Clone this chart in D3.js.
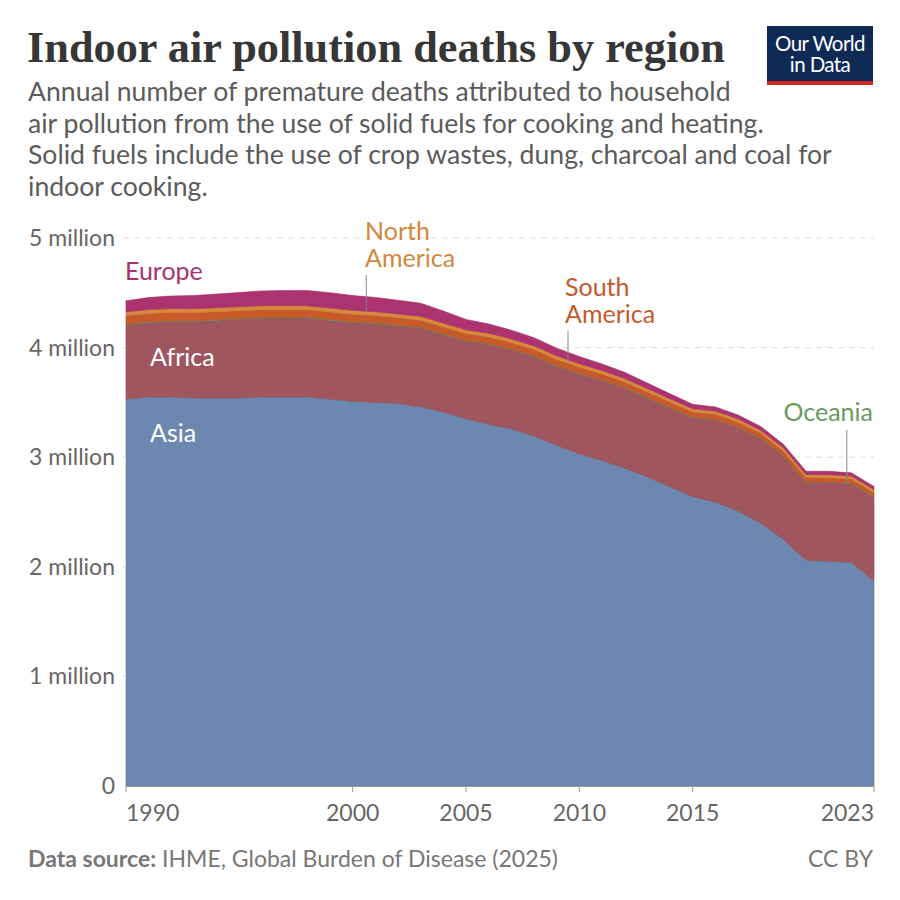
<!DOCTYPE html>
<html><head><meta charset="utf-8">
<script src="https://cdn.jsdelivr.net/npm/d3@7"></script>
<style>
body{margin:0;background:#fff;}
svg{display:block;}
</style></head>
<body>
<svg id="chart" width="900" height="900" font-family="Lato, 'Open Sans', sans-serif"></svg>
<script>
const years = d3.range(1990, 2024);
const asia = [3.53,3.55,3.55,3.54,3.54,3.54,3.55,3.55,3.55,3.53,3.51,3.50,3.49,3.46,3.41,3.35,3.30,3.26,3.19,3.11,3.03,2.97,2.90,2.82,2.73,2.64,2.59,2.51,2.40,2.25,2.06,2.05,2.04,1.87];
const africa = [0.68,0.68,0.69,0.70,0.71,0.72,0.72,0.72,0.72,0.72,0.72,0.72,0.71,0.72,0.71,0.71,0.73,0.72,0.73,0.72,0.73,0.73,0.73,0.72,0.72,0.72,0.75,0.76,0.77,0.76,0.71,0.72,0.72,0.77];
const oceania = [0.006,0.006,0.006,0.006,0.006,0.006,0.006,0.006,0.006,0.006,0.006,0.006,0.006,0.006,0.006,0.006,0.006,0.005,0.005,0.005,0.005,0.005,0.005,0.005,0.005,0.005,0.005,0.005,0.005,0.005,0.004,0.004,0.004,0.004];
const southAmerica = [0.075,0.075,0.074,0.073,0.072,0.071,0.070,0.070,0.069,0.069,0.068,0.067,0.066,0.064,0.063,0.062,0.061,0.060,0.058,0.057,0.055,0.054,0.052,0.050,0.048,0.047,0.046,0.045,0.043,0.042,0.040,0.039,0.037,0.035];
const northAmerica = [0.036,0.036,0.036,0.036,0.036,0.036,0.036,0.036,0.036,0.036,0.036,0.035,0.035,0.035,0.035,0.034,0.034,0.034,0.033,0.033,0.033,0.032,0.032,0.031,0.031,0.030,0.030,0.030,0.029,0.029,0.028,0.028,0.027,0.027];
const europe = [0.100,0.110,0.115,0.120,0.125,0.130,0.135,0.140,0.140,0.140,0.135,0.130,0.125,0.120,0.110,0.095,0.085,0.080,0.075,0.070,0.065,0.060,0.055,0.050,0.045,0.040,0.038,0.036,0.034,0.032,0.030,0.030,0.029,0.026];
const yTicks = [0,1,2,3,4,5];
const yTickLabels = ["0","1 million","2 million","3 million","4 million","5 million"];
const xTicks = [1990,2000,2005,2010,2015,2023];

const seriesDefs = [
  {key:"Asia", values:asia, color:"#6d88b0"},
  {key:"Africa", values:africa, color:"#a0565f"},
  {key:"Oceania", values:oceania, color:"#6a9a5e"},
  {key:"South America", values:southAmerica, color:"#c85a2a"},
  {key:"North America", values:northAmerica, color:"#d9883b"},
  {key:"Europe", values:europe, color:"#ad3370"}
];
const table = years.map((y,i)=>{const r={year:y}; seriesDefs.forEach(s=>r[s.key]=s.values[i]); return r;});

const svg = d3.select("#chart");
const x = d3.scaleLinear().domain([1990,2023]).range([126,874]);
const y = d3.scaleLinear().domain([0,5]).range([786,238]);

// title
svg.append("text").attr("x",27).attr("y",62).attr("font-family","'Liberation Serif','DejaVu Serif',serif")
  .attr("font-size",44).attr("font-weight",700).attr("fill","#363636").attr("textLength",698).attr("lengthAdjust","spacingAndGlyphs")
  .text("Indoor air pollution deaths by region");
const sub = ["Annual number of premature deaths attributed to household",
  "air pollution from the use of solid fuels for cooking and heating.",
  "Solid fuels include the use of crop wastes, dung, charcoal and coal for",
  "indoor cooking."];
const subT = svg.append("text").attr("x",28).attr("y",101).attr("font-size",26.6).attr("fill","#5b5b5b");
sub.forEach((t,i)=>subT.append("tspan").attr("x",28).attr("dy",i===0?0:31.5).text(t));

// logo
svg.append("rect").attr("x",767).attr("y",26).attr("width",106).attr("height",59).attr("fill","#0f2a55");
svg.append("rect").attr("x",767).attr("y",81).attr("width",106).attr("height",4).attr("fill","#ce261e");
const logoT = svg.append("text").attr("x",820).attr("y",51).attr("text-anchor","middle").attr("font-size",20.5).attr("fill","#fff").attr("letter-spacing",-0.6);
logoT.append("tspan").attr("x",820).attr("dy",0).text("Our World");
logoT.append("tspan").attr("x",820).attr("dy",21).text("in Data");

// grid
svg.append("g").selectAll("line").data(yTicks.filter(d=>d>0)).join("line")
  .attr("x1",123).attr("x2",874).attr("y1",d=>y(d)).attr("y2",d=>y(d))
  .attr("stroke","#dddddd").attr("stroke-dasharray","6,5");
svg.append("g").selectAll("text").data(yTicks).join("text")
  .attr("x",115).attr("y",d=>y(d)+8).attr("text-anchor","end").attr("font-size",23).attr("fill","#666")
  .text((d,i)=>yTickLabels[i]);

// stack
const stack = d3.stack().keys(seriesDefs.map(s=>s.key));
const layers = stack(table);
const area = d3.area().x(d=>x(d.data.year)).y0(d=>y(d[0])).y1(d=>y(d[1]));
svg.append("g").selectAll("path").data(layers).join("path")
  .attr("d",area).attr("fill",(d,i)=>seriesDefs[i].color)
  .attr("stroke",(d,i)=>d3.color(seriesDefs[i].color).darker(0.3)).attr("stroke-width",0.6);

// x axis
svg.append("line").attr("x1",126).attr("x2",874).attr("y1",786.5).attr("y2",786.5).attr("stroke","#999");
svg.append("g").selectAll("line").data(xTicks).join("line")
  .attr("x1",d=>x(d)).attr("x2",d=>x(d)).attr("y1",786).attr("y2",792).attr("stroke","#999");
svg.append("g").selectAll("text").data(xTicks).join("text")
  .attr("x",d=>x(d)).attr("y",821)
  .attr("text-anchor",d=>d===1990?"start":(d===2023?"end":"middle"))
  .attr("font-size",23).attr("fill","#666").text(d=>d);

// labels
const lf = 25;
svg.append("text").attr("x",125).attr("y",280).attr("font-size",lf).attr("fill","#a8336c").text("Europe");
svg.append("text").attr("x",150).attr("y",366).attr("font-size",lf).attr("fill","#fff").text("Africa");
svg.append("text").attr("x",150).attr("y",442).attr("font-size",lf).attr("fill","#fff").text("Asia");

function leader(year, yTopPx, seriesIdx){
  const i0 = Math.floor(year) - 1990, t = year - Math.floor(year);
  const v = layers[seriesIdx][i0][1]*(1-t) + layers[seriesIdx][i0+1][1]*t;
  svg.append("line").attr("x1",x(year)).attr("x2",x(year)).attr("y1",yTopPx).attr("y2",y(v)).attr("stroke","#888").attr("stroke-width",1);
}
function twoLine(xp, yp, l1, l2, color){
  const t = svg.append("text").attr("x",xp).attr("y",yp).attr("font-size",lf).attr("fill",color);
  t.append("tspan").attr("x",xp).attr("dy",0).text(l1);
  t.append("tspan").attr("x",xp).attr("dy",26.5).text(l2);
}
twoLine(365, 240, "North", "America", "#d2873c");
leader(2000.6, 275, 4);
twoLine(565, 296, "South", "America", "#c4592b");
leader(2009.5, 331, 3);
svg.append("text").attr("x",873).attr("y",421).attr("text-anchor","end").attr("font-size",lf).attr("fill","#6a9a5e").text("Oceania");
leader(2021.8, 430, 2);

// footer
const f = svg.append("text").attr("x",28).attr("y",867).attr("font-size",23).attr("fill","#777");
f.append("tspan").attr("font-weight",700).text("Data source:");
f.append("tspan").text(" IHME, Global Burden of Disease (2025)");
svg.append("text").attr("x",873).attr("y",867).attr("text-anchor","end").attr("font-size",23).attr("fill","#777").text("CC BY");
</script>
</body></html>
